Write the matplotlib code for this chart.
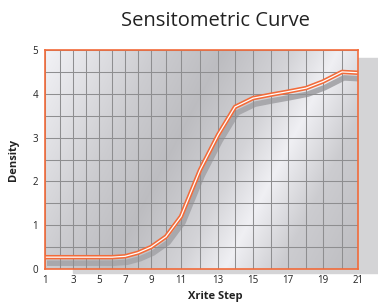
import numpy as np
import matplotlib
matplotlib.use('Agg')
import matplotlib.pyplot as plt
from matplotlib.patches import Rectangle
from matplotlib import transforms

# Xrite step wedge readings
steps = list(range(1, 22))
density = [0.27, 0.27, 0.27, 0.27, 0.27, 0.27, 0.29, 0.37, 0.50, 0.74,
           1.20, 2.26, 3.06, 3.70, 3.90, 3.98, 4.05, 4.13, 4.28, 4.50, 4.48]
x_ticks = [1, 3, 5, 7, 9, 11, 13, 15, 17, 19, 21]
y_ticks = [0, 1, 2, 3, 4, 5]

# the step columns in the original artwork are not evenly spaced
step_pos = [45, 60, 73, 86, 99, 112, 125, 138, 151, 166, 181,
            200, 218, 235, 253, 271, 288, 306, 323, 342, 358]

ORANGE = '#f26b3a'
W, H = 378, 307

fig = plt.figure(figsize=(W / 100, H / 100), dpi=100)
ax = fig.add_axes([45 / W, 1 - 269 / H, 313 / W, 219 / H])
ax.set_zorder(2)

# drop shadow of the plot box
fig.patches.append(Rectangle((73 / W, 1 - 273 / H), 1, (273 - 58) / H,
                             transform=fig.transFigure, color='#d4d4d6',
                             zorder=0))

fwd = lambda x: np.interp(x, steps, step_pos)
inv = lambda p: np.interp(p, step_pos, steps)
ax.set_xscale('function', functions=(fwd, inv))
ax.set_xlim(1, 21)
ax.set_ylim(0, 5)

# metallic background sheen
u, v = np.meshgrid(np.linspace(0, 1, 300), np.linspace(1, 0, 220))
px = 45 + u * 313
py = 50 + (1 - v) * 219
p = px + 0.52 * py
g = np.interp(p, [71, 185, 250, 320, 365, 420, 498],
              [0.95, 0.80, 0.74, 0.83, 0.94, 0.80, 0.74])
img = np.dstack([g, g, np.clip(g + 0.015, 0, 1)])
ax.imshow(img, extent=[0, 1, 0, 1], transform=ax.transAxes,
          aspect='auto', zorder=0)

ax.set_xticks(x_ticks)
ax.set_xticks(steps, minor=True)
ax.set_yticks(y_ticks)
ax.set_yticks(np.arange(0, 5.01, 0.5), minor=True)
ax.grid(True, which='both', color='#8e8e90', linewidth=0.75, zorder=1)
ax.set_axisbelow(False)
ax.tick_params(which='both', length=0, labelsize=7, colors='#222222')
ax.tick_params(axis='x', pad=4)
ax.tick_params(axis='y', pad=5)
for lab in ax.get_xticklabels() + ax.get_yticklabels():
    lab.set_fontfamily('Open Sans')

for s in ax.spines.values():
    s.set_color(ORANGE)
    s.set_linewidth(1.2)
    s.set_zorder(5)

shadow = transforms.offset_copy(ax.transData, fig=fig, x=2, y=-6, units='dots')
ax.plot(steps, density, color='#a8a8ac', lw=4, transform=shadow,
        solid_capstyle='butt', solid_joinstyle='round', zorder=2)
ax.plot(steps, density, color=ORANGE, lw=3.2, zorder=3,
        solid_capstyle='butt', solid_joinstyle='round')
ax.plot(steps, density, color='white', lw=0.9, zorder=4,
        solid_capstyle='butt', solid_joinstyle='round')

fig.text(215 / W, 1 - 21 / H, 'Sensitometric Curve', ha='center',
         va='center', fontsize=14.5, fontweight='normal',
         family='Open Sans', color='#222222')
fig.text(215 / W, 1 - 297 / H, 'Xrite Step', ha='center', va='center',
         fontsize=8, fontweight='bold', family='Open Sans', color='#222222')
fig.text(14 / W, 1 - 160 / H, 'Density', ha='center', va='center',
         rotation=90, fontsize=8, fontweight='bold', family='Open Sans',
         color='#222222')

fig.savefig('out.png', dpi=100)
